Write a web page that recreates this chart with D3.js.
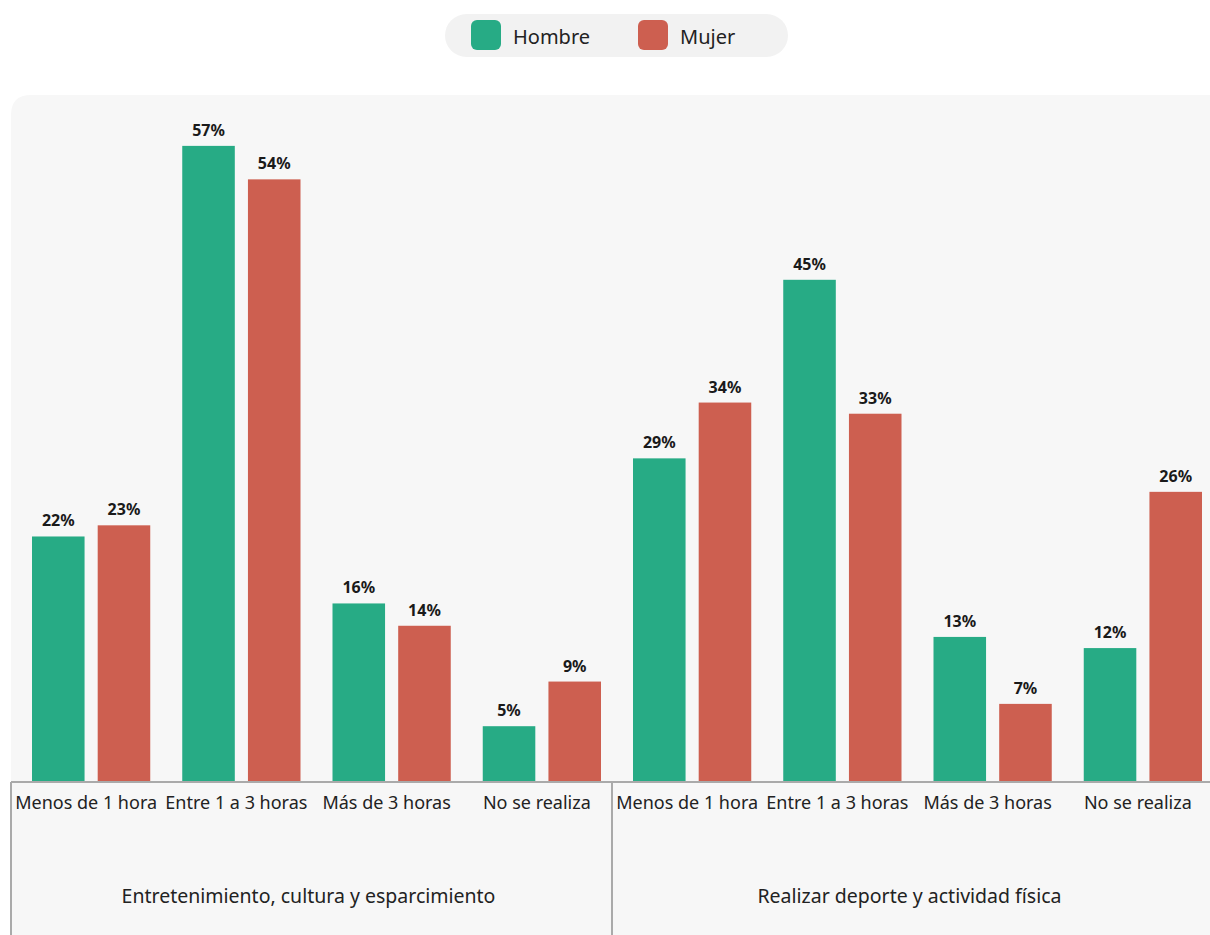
<!DOCTYPE html>
<html><head><meta charset="utf-8">
<script src="https://cdn.jsdelivr.net/npm/d3@7"></script>
<style>body{margin:0;background:#fff;overflow:hidden}svg{display:block;font-family:"Noto Sans",Lato,sans-serif}</style>
</head><body><svg id="c" width="1210" height="935"></svg>
<script>
const groups = ["Entretenimiento, cultura y esparcimiento", "Realizar deporte y actividad física"];
const categories = ["Menos de 1 hora", "Entre 1 a 3 horas", "Más de 3 horas", "No se realiza"];
const seriesNames = ["Hombre", "Mujer"];
const hombre = [22, 57, 16, 5, 29, 45, 13, 12];
const mujer = [23, 54, 14, 9, 34, 33, 7, 26];
const colors = ["#27ab85", "#cd5f50"];

const svg = d3.select("#c");
const left = 11, right = 1213, baseY = 782;
const cells = [];
groups.forEach((g, gi) => categories.forEach((c, ci) => cells.push({g, c, key: gi + "-" + ci, i: gi * 4 + ci})));

// panel
const r = 20;
svg.append("path").attr("fill", "#f7f7f7")
  .attr("d", `M${left},935 L${left},${95 + r} Q${left},95 ${left + r},95 L1210,95 L1210,935 Z`);

const x = d3.scaleBand().domain(cells.map(d => d.key)).range([left, right]).paddingInner(0).paddingOuter(0);
const x1 = d3.scaleBand().domain(seriesNames).range([21, x.bandwidth() - 11]).paddingInner(0.2).paddingOuter(0);
const y = d3.scaleLinear().domain([0, 60]).range([baseY, baseY - 60 * 11.16]);

const data = cells.map(d => ({...d, vals: [hombre[d.i], mujer[d.i]]}));
const gCell = svg.append("g").selectAll("g").data(data).join("g").attr("transform", d => `translate(${x(d.key)},0)`);
gCell.selectAll("rect").data(d => d.vals.map((v, si) => ({v, s: seriesNames[si], si}))).join("rect")
  .attr("x", d => x1(d.s)).attr("width", x1.bandwidth())
  .attr("y", d => y(d.v)).attr("height", d => baseY - y(d.v)).attr("fill", d => colors[d.si]);
gCell.selectAll("text.val").data(d => d.vals.map((v, si) => ({v, s: seriesNames[si]}))).join("text")
  .attr("class", "val").attr("x", d => x1(d.s) + x1.bandwidth() / 2).attr("y", d => y(d.v) - 10)
  .attr("text-anchor", "middle").attr("font-size", 16).attr("font-weight", 700).attr("fill", "#1a1a1a")
  .text(d => d.v + "%");

// axis
const axis = d3.axisBottom(x).tickSize(0).tickFormat(k => cells.find(c => c.key === k).c);
const ax = svg.append("g").attr("transform", `translate(0,${baseY})`).call(axis);
ax.select(".domain").attr("stroke", "#aaa").attr("stroke-width", 2).attr("d", `M${left},0H1210`);
ax.selectAll(".tick text").attr("font-size", 18).attr("fill", "#222").attr("dy", 0).attr("y", 27)
  .style("font-family", '"Noto Sans",Lato,sans-serif');

// group separators & labels
const gx = d3.scaleBand().domain(groups).range([left, right]);
svg.append("g").selectAll("line").data(groups).join("line")
  .attr("x1", d => gx(d)).attr("x2", d => gx(d)).attr("y1", baseY).attr("y2", 935)
  .attr("stroke", "#aaa").attr("stroke-width", 2);
svg.append("g").selectAll("text").data(groups).join("text")
  .attr("x", d => gx(d) + gx.bandwidth() / 2 - 3).attr("y", 903).attr("text-anchor", "middle")
  .attr("font-size", 19.5).attr("fill", "#222").text(d => d);

// legend
const lg = svg.append("g");
lg.append("rect").attr("x", 445).attr("y", 14).attr("width", 343).attr("height", 43).attr("rx", 21.5).attr("fill", "#f2f2f2");
const lx = [471, 638];
seriesNames.forEach((s, i) => {
  lg.append("rect").attr("x", lx[i]).attr("y", 20).attr("width", 30).attr("height", 30).attr("rx", 6).attr("fill", colors[i]);
  lg.append("text").attr("x", lx[i] + 42).attr("y", 44).attr("font-size", 20).attr("fill", "#222").text(s);
});
</script></body></html>
